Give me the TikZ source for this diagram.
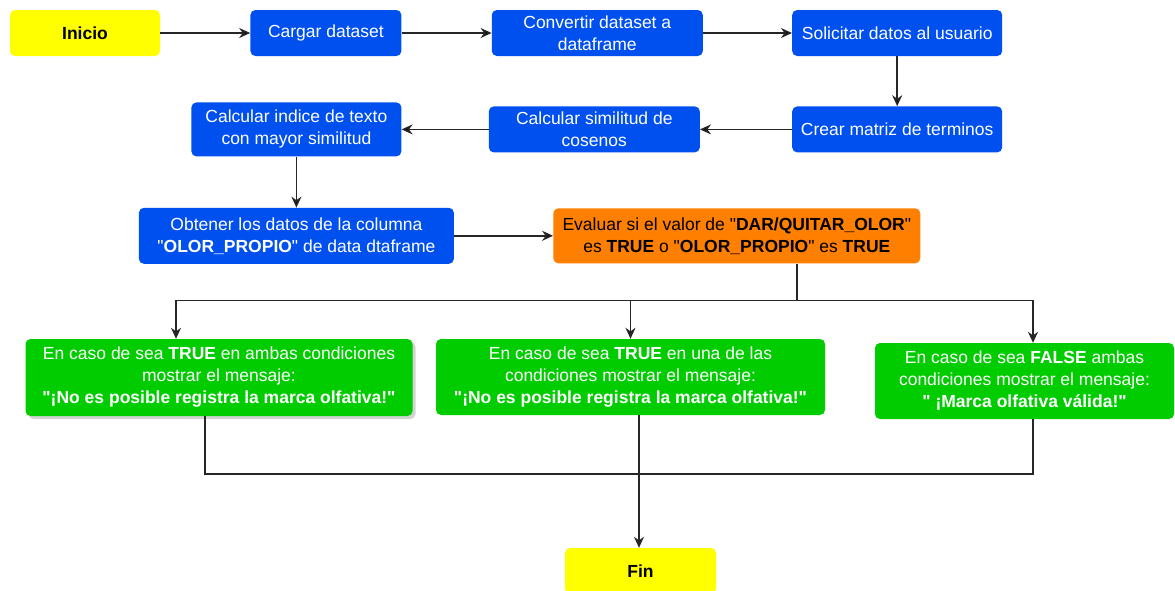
\documentclass[tikz,border=0pt]{standalone}
\usepackage{fontspec}
\setmainfont{Liberation Sans}[Ligatures=TeXOff]
\usetikzlibrary{positioning,arrows.meta,shadows}
\definecolor{cblue}{HTML}{0050EF}
\definecolor{cgreen}{HTML}{00CC00}
\definecolor{corange}{HTML}{FF8000}
\definecolor{cyellow}{HTML}{FFFF00}

\begin{document}
\begin{tikzpicture}[x=1pt,y=-1pt,
        font=\fontsize{17.5}{22}\selectfont,
        box/.style={shape=rectangle,rounded corners=5pt,align=center,inner sep=2pt,minimum height=46pt},
        startbox/.style={box,fill=cyellow,text=black,font=\fontsize{17.5}{22}\selectfont\bfseries},
        stepbox/.style={box,fill=cblue,text=white},
        testbox/.style={box,fill=corange,text=black},
        msgbox/.style={box,fill=cgreen,text=white},
        >={Stealth[length=11pt,width=10pt]},
        line/.style={draw=black!85,line width=1.5pt}]
            \useasboundingbox (0,0) rectangle (1175,590);

            \node[startbox,minimum width=150pt] (inicio) at (85,33) {Inicio};
            \node[stepbox,minimum width=151pt] (cargar) [right=90pt of inicio] {Cargar dataset};
            \node[stepbox,minimum width=211pt] (convertir) [right=90pt of cargar] {Convertir dataset a\\dataframe};
            \node[stepbox,minimum width=210pt] (solicitar) [right=89pt of convertir] {Solicitar datos al usuario};
            \node[stepbox,minimum width=210pt] (crear) [below=50pt of solicitar] {Crear matriz de terminos};
            \node[stepbox,minimum width=211pt] (similitud) [left=92pt of crear] {Calcular similitud de\\cosenos};
            \node[stepbox,minimum width=210pt,minimum height=54pt] (indice) [left=87pt of similitud] {Calcular indice de texto\\con mayor similitud};
            \node[stepbox,minimum width=315pt,minimum height=56pt] (obtener) [below=51pt of indice] {Obtener los datos de la columna\\"\textbf{OLOR\_PROPIO}" de data dtaframe};
            \node[testbox,minimum width=367pt,minimum height=55pt] (evaluar) [right=99pt of obtener] {Evaluar si el valor de "\textbf{DAR/QUITAR\_OLOR}"\\es \textbf{TRUE} o "\textbf{OLOR\_PROPIO}" es \textbf{TRUE}};

            \node[msgbox,minimum width=387pt,minimum height=77pt,drop shadow={opacity=0.35,shadow xshift=3pt,shadow yshift=-3pt}] (ambas) at (219,377.5) {En caso de sea \textbf{TRUE} en ambas condiciones\\mostrar el mensaje:\\\textbf{"¡No es posible registra la marca olfativa!"}};
            \node[msgbox,minimum width=389pt,minimum height=76pt] (una) at (630.5,377) {En caso de sea \textbf{TRUE} en una de las\\condiciones mostrar el mensaje:\\\textbf{"¡No es posible registra la marca olfativa!"}};
            \node[msgbox,minimum width=299pt,minimum height=76pt] (falsas) at (1024.5,381) {En caso de sea \textbf{FALSE} ambas\\condiciones mostrar el mensaje:\\\textbf{" ¡Marca olfativa válida!"}};

            \node[startbox,minimum width=151pt] (fin) at (640.5,571) {Fin};

            \path [->,line] (inicio) edge (cargar);
            \path [->,line] (cargar) edge (convertir);
            \path [->,line] (convertir) edge (solicitar);
            \path [->,line] (solicitar) edge (crear);
            \path [->,line] (crear) edge (similitud);
            \path [->,line] (similitud) edge (indice);
            \path [->,line] (indice) edge (obtener);
            \path [->,line] (obtener) edge (evaluar);

            % salidas de la evaluacion
            \coordinate (split) at (797,300.5);
            \draw [line] (split |- evaluar.south) -- (split);
            \draw [->,line] (split) -| ([xshift=-43pt]ambas.north);
            \draw [->,line] (split) -| (una.north);
            \draw [->,line] (split) -| ([xshift=8.5pt]falsas.north);

            % union hacia fin
            \coordinate (join) at (639,474);
            \draw [line] ([xshift=-14pt]ambas.south) |- (join);
            \draw [line] (join |- una.south) -- (join);
            \draw [line] ([xshift=8.5pt]falsas.south) |- (join);
            \draw [->,line] (join) -- (join |- fin.north);
        \end{tikzpicture}
\end{document}
